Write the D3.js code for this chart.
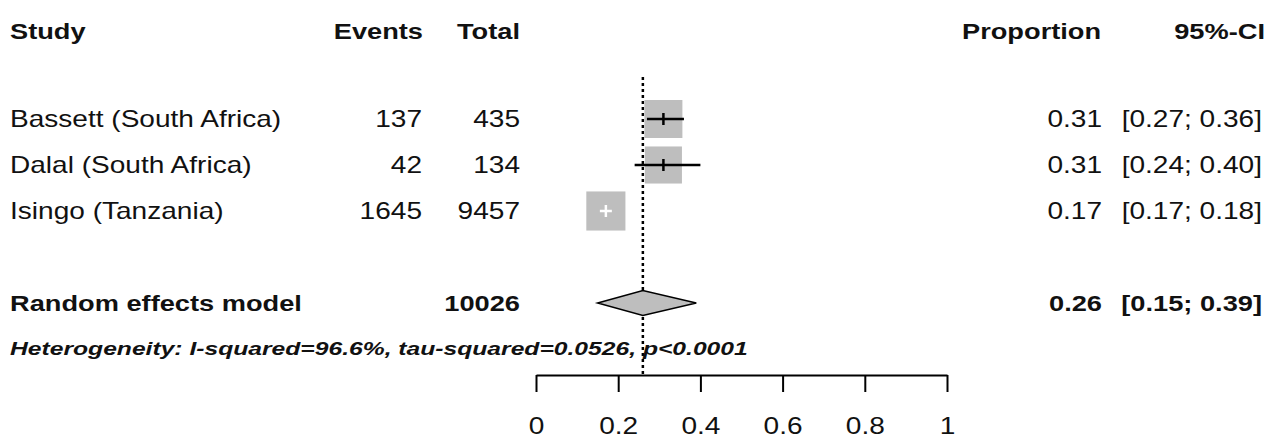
<!DOCTYPE html>
<html>
<head>
<meta charset="utf-8">
<script src="https://cdn.jsdelivr.net/npm/d3@7"></script>
<style>
  body { margin: 0; background: #fff; }
  svg { display: block; font-family: Arial, "Liberation Sans", sans-serif; }
</style>
</head>
<body>
<svg id="forest" width="1272" height="441"></svg>
<script>
// study level data
var studies = ['Bassett (South Africa)', 'Dalal (South Africa)', 'Isingo (Tanzania)'];
var events = [137, 42, 1645];
var totals = [435, 134, 9457];
var props = [0.31, 0.31, 0.17];
var ci_lo = [0.27, 0.24, 0.17];
var ci_hi = [0.36, 0.40, 0.18];
var weights = [33.2, 31.6, 35.2];

// pooled estimate
var pooled = {label: 'Random effects model', total: 10026, est: 0.26, lo: 0.15, hi: 0.39};
var het_text = 'Heterogeneity: I-squared=96.6%, tau-squared=0.0526, p<0.0001';
var headers = ['Study', 'Events', 'Total', 'Proportion', '95%-CI'];
var axis_ticks = [0, 0.2, 0.4, 0.6, 0.8, 1];

var fsize = 23, sx = 1.22;        // plain text, original plot is stretched sideways
var bsize = 22.5, bsx = 1.21;     // bold text
var hsize = 18, hsx = 1.37;       // heterogeneity line

var svg = d3.select('#forest');
var x = d3.scaleLinear().domain([0, 1]).range([536, 947]);
// row index -> y of row centre
var row = d3.scaleLinear().domain([0, 1]).range([27, 73]);
var box = d3.scaleSqrt().domain([0, 35]).range([0, 39]);

function put_text(px, py, str, anchor, opts) {
  opts = opts || {};
  let size = fsize, k = sx;
  if (opts.bold) { size = bsize; k = bsx; }
  if (opts.italic) { size = hsize; k = hsx; }
  svg.append('g')
    .attr('transform', 'translate(' + px + ',' + py + ') scale(' + k + ',1)')
    .append('text')
      .attr('text-anchor', anchor)
      .attr('dy', '0.36em')
      .style('font-size', size + 'px')
      .style('font-weight', opts.bold ? 'bold' : 'normal')
      .style('font-style', opts.italic ? 'italic' : 'normal')
      .style('fill', '#111')
      .text(str);
}

function fmt(v) { return d3.format('.2f')(v); }

// header
var hy = 31;
put_text(10, hy, headers[0], 'start', {bold: true});
put_text(423, hy, headers[1], 'end', {bold: true});
put_text(520, hy, headers[2], 'end', {bold: true});
put_text(962, hy, headers[3], 'start', {bold: true});
put_text(1265, hy, headers[4], 'end', {bold: true});

// reference line at pooled estimate
svg.append('line')
  .attr('x1', x(pooled.est)).attr('x2', x(pooled.est))
  .attr('y1', row(1) + 4).attr('y2', 375)
  .style('stroke', '#000')
  .style('stroke-width', 2.5)
  .style('stroke-dasharray', '3,3');

studies.forEach(function(s, i) {
  let yy = row(i + 2);
  put_text(10, yy, s, 'start');
  put_text(422, yy, events[i], 'end');
  put_text(520, yy, totals[i], 'end');
  put_text(1102, yy, fmt(props[i]), 'end');
  put_text(1262, yy, '[' + fmt(ci_lo[i]) + '; ' + fmt(ci_hi[i]) + ']', 'end');

  let side = box(weights[i]);
  svg.append('rect')
    .attr('x', x(props[i]) - side / 2)
    .attr('y', yy - side / 2)
    .attr('width', side)
    .attr('height', side)
    .style('fill', '#bebebe');

  // CI drawn white when it sits well inside the box
  let inside = (x(ci_hi[i]) - x(ci_lo[i])) < side * 0.6;
  let col = inside ? '#fff' : '#000';
  let lo = x(ci_lo[i]), hi = x(ci_hi[i]);
  if (inside) { lo = x(props[i]) - 6; hi = x(props[i]) + 6; }
  svg.append('line')
    .attr('x1', lo).attr('x2', hi)
    .attr('y1', yy).attr('y2', yy)
    .style('stroke', col).style('stroke-width', 2.5);
  svg.append('line')
    .attr('x1', x(props[i])).attr('x2', x(props[i]))
    .attr('y1', yy - 6).attr('y2', yy + 6)
    .style('stroke', col).style('stroke-width', 2.5);
});

// pooled row
var py = row(6);
put_text(10, py, pooled.label, 'start', {bold: true});
put_text(520, py, pooled.total, 'end', {bold: true});
put_text(1102, py, fmt(pooled.est), 'end', {bold: true});
put_text(1262, py, '[' + fmt(pooled.lo) + '; ' + fmt(pooled.hi) + ']', 'end', {bold: true});

svg.append('polygon')
  .attr('points', [
    [x(pooled.lo), py], [x(pooled.est), py - 12.5],
    [x(pooled.hi), py], [x(pooled.est), py + 12.5]
  ].map(p => p.join(',')).join(' '))
  .style('fill', '#bebebe')
  .style('stroke', '#000')
  .style('stroke-width', 1.5);

put_text(10, row(7), het_text, 'start', {bold: true, italic: true});

// x axis
var ax = svg.append('g')
  .attr('transform', 'translate(0,375)')
  .call(d3.axisBottom(x)
    .tickValues(axis_ticks)
    .tickFormat(d => String(d))
    .tickSize(17)
    .tickSizeOuter(0)
    .tickPadding(26));
ax.select('.domain').style('stroke', '#000').style('stroke-width', 2);
ax.selectAll('.tick line').style('stroke', '#000').style('stroke-width', 2);
ax.selectAll('.tick text')
  .attr('transform', 'scale(' + sx + ',1)')
  .style('font-size', fsize + 'px')
  .style('font-family', 'Arial, "Liberation Sans", sans-serif')
  .style('fill', '#111');
</script>
</body>
</html>
